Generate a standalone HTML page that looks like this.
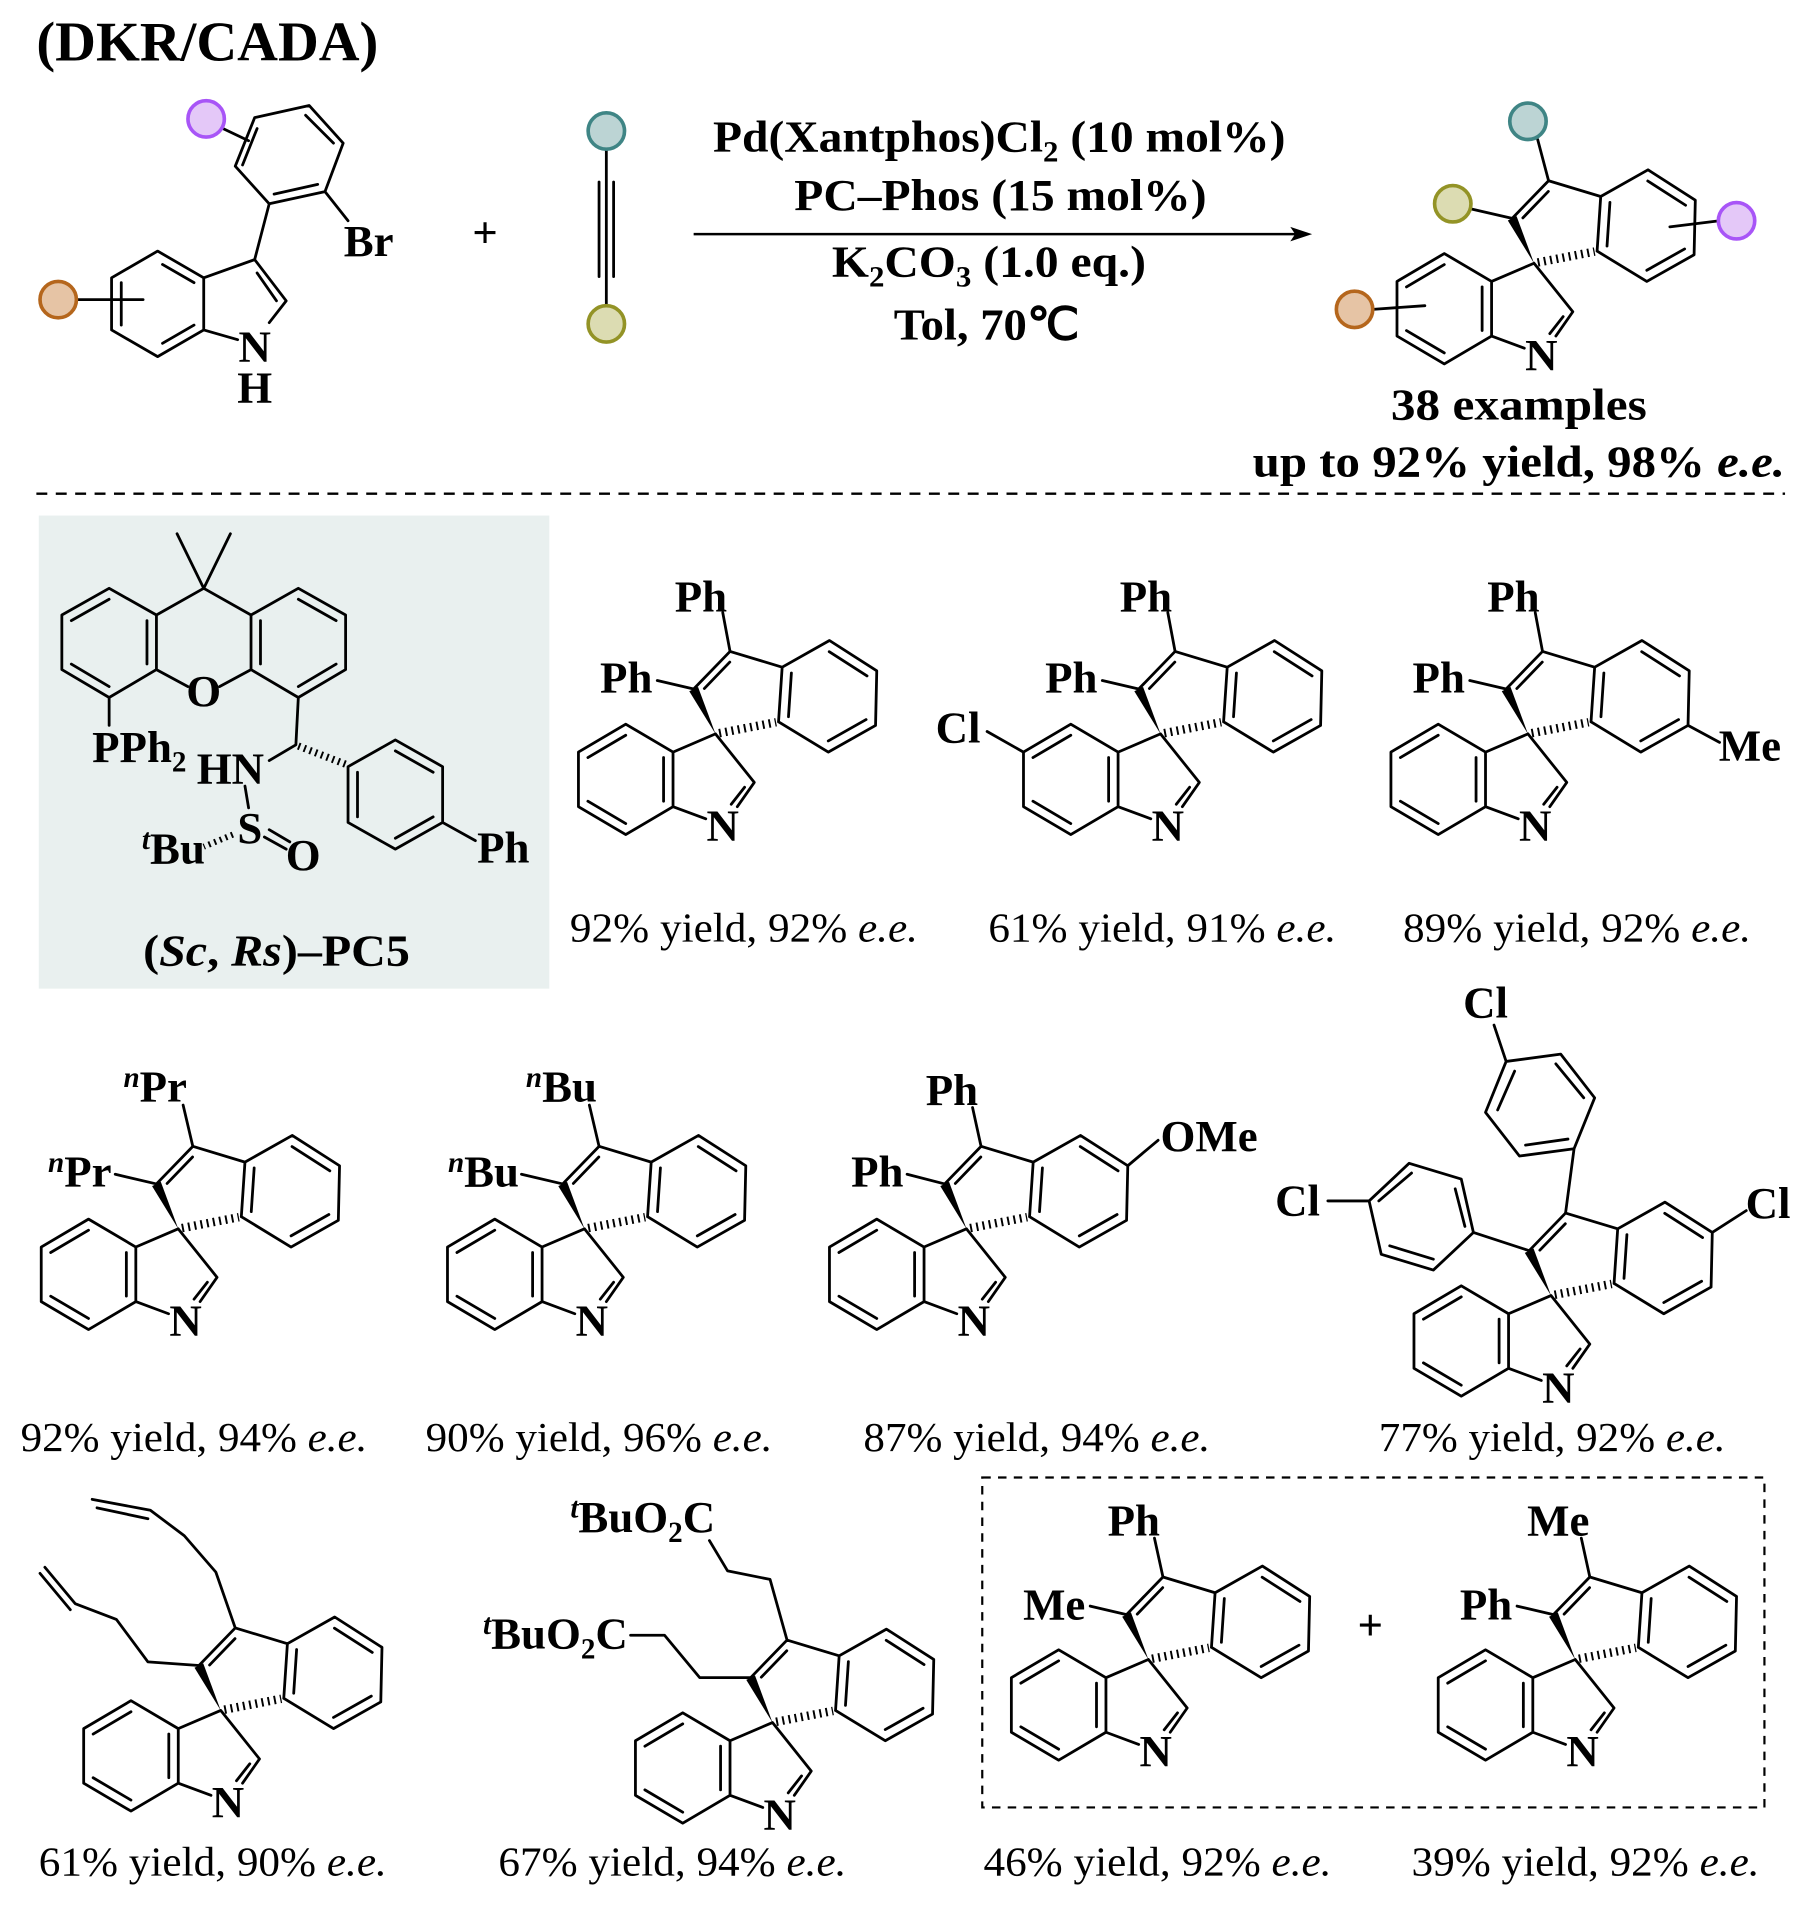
<!DOCTYPE html>
<html><head><meta charset="utf-8"><style>
html,body{margin:0;padding:0;background:#fff;}
svg{display:block;}
.b{font-family:"Liberation Serif",serif;font-weight:bold;font-size:37px;fill:#000;}
.c{font-family:"Liberation Serif",serif;font-size:34px;fill:#000;}
.l{stroke:#000;stroke-width:2.3;fill:none;stroke-linecap:round;stroke-linejoin:round;}
</style></head><body>
<svg width="1819" height="1913" viewBox="0 0 1500 1577" preserveAspectRatio="none" xmlns="http://www.w3.org/2000/svg">
<defs>
<g id="core">
<path class="l" d="M-18,-37 L12,-68 L55,-55 L52,-10 M55,-55 L94,-77 L133,-52 L132,-7 L93,15 L52,-10 M-9.2,-37.4 L11.8,-59.2 M93.8,-67.8 L125,-47.8 M124.2,-11.8 L93,5.8 M60.2,-14.2 L62.6,-50.2 M0,0 L-35,15 L-35,60 L-8,70 M0,0 L32,40 L18,60 M24,44 L13,58 M-35,15 L-74,-8 L-113,15 L-113,60 L-74,83 L-35,60 M-74,1.1 L-105.2,19.5 M-105.2,55.5 L-74,73.9 M-42.8,55.5 L-42.8,19.5"/>
<polygon points="0,0 -14.4,-38.8 -21.6,-35.2" fill="#000"/>
<line x1="3" y1="-0.6" x2="50" y2="-9.6" stroke="#000" stroke-width="7" stroke-dasharray="1.6 3.6"/>
<text class="b" x="6" y="88" text-anchor="middle">N</text>
</g>
</defs>

<text class="b" x="30" y="50" style="font-size:46px" textLength="282" lengthAdjust="spacingAndGlyphs">(DKR/CADA)</text>

<path class="l" d="M130,207 L168,229 L168,272 L130,294 L92,272 L92,229 Z M134,218 L160,233 M160,268 L134,283 M100,233 L100,268 M168,229 L210,214 L236,248 L222,266 M168,272 L196,280 M212,225 L228,248 M210,214 L222,168 L268,158 L283,118 L255,87 L210,97 L194,137 L222,168 M226,160 L262,152 M275,118 L252,95 M212,106 L200,136 M268,158 L287,182 M63,247 L118,247 M184,106 L205,116"/>
<text class="b" x="210" y="298" text-anchor="middle">N</text>
<text class="b" x="210" y="332" text-anchor="middle">H</text>
<text class="b" x="304" y="211" text-anchor="middle">Br</text>
<circle cx="48" cy="247" r="15" fill="#e6c4a5" stroke="#b5661c" stroke-width="3"/>
<circle cx="170" cy="98" r="15" fill="#e4c8f8" stroke="#a855f7" stroke-width="3"/>
<text class="b" x="400" y="204" text-anchor="middle">+</text>

<path class="l" d="M500,123 L500,150 M494,150 L494,228 M500,150 L500,228 M506,150 L506,228 M500,228 L500,252"/>
<circle cx="500" cy="108" r="15" fill="#bcd4d4" stroke="#3f8585" stroke-width="3"/>
<circle cx="500" cy="267" r="15" fill="#dcdcb2" stroke="#939326" stroke-width="3"/>

<line x1="572" y1="193" x2="1068" y2="193" stroke="#000" stroke-width="2"/>
<polygon points="1082,193 1064,187 1068,193 1064,199" fill="#000"/>
<text class="b" x="588" y="125" textLength="472" lengthAdjust="spacingAndGlyphs">Pd(Xantphos)Cl<tspan font-size="24" dy="8">2</tspan><tspan dy="-8"> (10 mol%)</tspan></text>
<text class="b" x="655" y="173" textLength="340" lengthAdjust="spacingAndGlyphs">PC–Phos (15 mol%)</text>
<text class="b" x="686" y="228" textLength="259" lengthAdjust="spacingAndGlyphs">K<tspan font-size="24" dy="8">2</tspan><tspan dy="-8">CO</tspan><tspan font-size="24" dy="8">3</tspan><tspan dy="-8"> (1.0 eq.)</tspan></text>
<text class="b" x="737" y="280" textLength="153" lengthAdjust="spacingAndGlyphs">Tol, 70℃</text>

<use href="#core" x="1265" y="217"/>
<path class="l" d="M1247,180 L1212,172 M1277,149 L1268,115 M1418,182 L1377,187 M1132,255 L1175,252"/>
<circle cx="1198" cy="168" r="15" fill="#dcdcb2" stroke="#939326" stroke-width="3"/>
<circle cx="1260" cy="100" r="15" fill="#bcd4d4" stroke="#3f8585" stroke-width="3"/>
<circle cx="1432" cy="182" r="15" fill="#e4c8f8" stroke="#a855f7" stroke-width="3"/>
<circle cx="1117" cy="255" r="15" fill="#e6c4a5" stroke="#b5661c" stroke-width="3"/>
<text class="b" x="1147" y="346" textLength="211" lengthAdjust="spacingAndGlyphs">38 examples</text>
<text class="b" x="1033" y="393" textLength="439" lengthAdjust="spacingAndGlyphs">up to 92% yield, 98% <tspan font-style="italic">e.e.</tspan></text>

<line x1="30" y1="407" x2="1472" y2="407" stroke="#000" stroke-width="2" stroke-dasharray="9 7"/>

<rect x="32" y="425" width="421" height="390" fill="#e9f0ef"/>
<path class="l" d="M90,485 L129,507 L129,552 L90,575 L51,552 L51,507 Z M58.8,511.6 L90,494 M121.2,511.6 L121.2,547.4 M90,566 L58.8,547.4 M246,485 L285,507 L285,552 L246,575 L207,552 L207,507 Z M246,494 L277.2,511.6 M277.2,547.4 L246,566 M214.8,547.4 L214.8,511.6 M129,507 L168,485 L207,507 M129,552 L155,566 M181,566 L207,552 M168,485 L146,440 M168,485 L190,440 M90,575 L90,598 M246,575 L244,614 L222,627 M326,610 L365,632 L365,678 L326,700 L287,678 L287,632 Z M326,619 L357.2,636.6 M357.2,673.4 L326,691 M294.8,673.4 L294.8,636.6 M365,678 L392,693 M202,648 L205,666 M218,690 L236,700 M222,684 L239,694"/>
<line x1="246" y1="615" x2="285" y2="630" stroke="#000" stroke-width="6" stroke-dasharray="1.6 3.4"/>
<line x1="192" y1="688" x2="168" y2="698" stroke="#000" stroke-width="5" stroke-dasharray="1.6 3.4"/>
<text class="b" x="168" y="582" text-anchor="middle">O</text>
<text class="b" x="76" y="628">PPh<tspan font-size="24" dy="8">2</tspan></text>
<text class="b" x="190" y="646" text-anchor="middle">HN</text>
<text class="b" x="206" y="695" text-anchor="middle">S</text>
<text class="b" x="250" y="717" text-anchor="middle">O</text>
<text class="b" x="143" y="712" text-anchor="middle"><tspan font-style="italic" font-size="24" dy="-12">t</tspan><tspan dy="12">Bu</tspan></text>
<text class="b" x="415" y="711" text-anchor="middle">Ph</text>
<text class="b" x="118" y="796" textLength="220" lengthAdjust="spacingAndGlyphs">(<tspan font-style="italic">Sc</tspan>, <tspan font-style="italic">Rs</tspan>)–PC5</text>

<use href="#core" x="590" y="605"/>
<path class="l" d="M572,568 L542,561 M602,537 L596,505"/>
<text class="b" x="578" y="504" text-anchor="middle">Ph</text>
<text class="b" x="538" y="571" text-anchor="end">Ph</text>
<text class="c" x="470" y="776" textLength="287" lengthAdjust="spacingAndGlyphs">92% yield, 92% <tspan font-style="italic">e.e.</tspan></text>

<use href="#core" x="957" y="605"/>
<path class="l" d="M939,568 L909,561 M969,537 L963,505 M844,620 L814,603"/>
<text class="b" x="945" y="504" text-anchor="middle">Ph</text>
<text class="b" x="905" y="571" text-anchor="end">Ph</text>
<text class="b" x="790" y="612" text-anchor="middle">Cl</text>
<text class="c" x="815" y="776" textLength="287" lengthAdjust="spacingAndGlyphs">61% yield, 91% <tspan font-style="italic">e.e.</tspan></text>

<use href="#core" x="1260" y="605"/>
<path class="l" d="M1242,568 L1212,561 M1272,537 L1266,505 M1392,598 L1418,612"/>
<text class="b" x="1248" y="504" text-anchor="middle">Ph</text>
<text class="b" x="1208" y="571" text-anchor="end">Ph</text>
<text class="b" x="1443" y="627" text-anchor="middle">Me</text>
<text class="c" x="1157" y="776" textLength="287" lengthAdjust="spacingAndGlyphs">89% yield, 92% <tspan font-style="italic">e.e.</tspan></text>

<use href="#core" x="147" y="1013"/>
<path class="l" d="M129,976 L95,968 M159,945 L151,911"/>
<text class="b" x="128" y="908" text-anchor="middle"><tspan font-style="italic" font-size="24" dy="-12">n</tspan><tspan dy="12">Pr</tspan></text>
<text class="b" x="92" y="978" text-anchor="end"><tspan font-style="italic" font-size="24" dy="-12">n</tspan><tspan dy="12">Pr</tspan></text>
<text class="c" x="17" y="1196" textLength="286" lengthAdjust="spacingAndGlyphs">92% yield, 94% <tspan font-style="italic">e.e.</tspan></text>

<use href="#core" x="482" y="1013"/>
<path class="l" d="M464,976 L430,968 M494,945 L486,911"/>
<text class="b" x="463" y="908" text-anchor="middle"><tspan font-style="italic" font-size="24" dy="-12">n</tspan><tspan dy="12">Bu</tspan></text>
<text class="b" x="428" y="978" text-anchor="end"><tspan font-style="italic" font-size="24" dy="-12">n</tspan><tspan dy="12">Bu</tspan></text>
<text class="c" x="351" y="1196" textLength="286" lengthAdjust="spacingAndGlyphs">90% yield, 96% <tspan font-style="italic">e.e.</tspan></text>

<use href="#core" x="797" y="1013"/>
<path class="l" d="M779,976 L748,968 M809,945 L802,913 M930,961 L955,940"/>
<text class="b" x="785" y="911" text-anchor="middle">Ph</text>
<text class="b" x="745" y="978" text-anchor="end">Ph</text>
<text class="b" x="957" y="949">OMe</text>
<text class="c" x="712" y="1196" textLength="286" lengthAdjust="spacingAndGlyphs">87% yield, 94% <tspan font-style="italic">e.e.</tspan></text>

<use href="#core" x="1279" y="1068"/>
<path class="l" d="M1261,1031 L1215,1016 M1291,1000 L1298,947 M1412,1016 L1440,998 M1298,947 L1253,953 L1225,917 L1242,875 L1287,869 L1315,905 Z M1293,939 L1258,944 M1235,915 L1249,883 M1283,877 L1306,905 M1215,1016 L1182,1047 L1139,1034 L1129,990 L1162,959 L1205,972 Z M1182,1038 L1146,1027 M1137,990 L1164,967 M1200,980 L1208,1011 M1242,875 L1232,845 M1129,990 L1095,990"/>
<text class="b" x="1225" y="839" text-anchor="middle">Cl</text>
<text class="b" x="1070" y="1002" text-anchor="middle">Cl</text>
<text class="b" x="1458" y="1004" text-anchor="middle">Cl</text>
<text class="c" x="1137" y="1196" textLength="286" lengthAdjust="spacingAndGlyphs">77% yield, 92% <tspan font-style="italic">e.e.</tspan></text>

<use href="#core" x="182" y="1410"/>
<path class="l" d="M164,1373 L122,1370 L96,1335 L62,1322 L37,1292 M58,1327 L33,1297 M194,1342 L178,1296 L152,1266 L124,1245 L76,1236 M122,1252 L80,1243"/>
<text class="c" x="32" y="1546" textLength="287" lengthAdjust="spacingAndGlyphs">61% yield, 90% <tspan font-style="italic">e.e.</tspan></text>

<use href="#core" x="637" y="1420"/>
<path class="l" d="M619,1383 L577,1383 L548,1348 L520,1348 M649,1352 L635,1302 L600,1295 L585,1270"/>
<text class="b" x="530" y="1263" text-anchor="middle"><tspan font-style="italic" font-size="24" dy="-12">t</tspan><tspan dy="12">BuO</tspan><tspan font-size="24" dy="8">2</tspan><tspan dy="-8">C</tspan></text>
<text class="b" x="458" y="1359" text-anchor="middle"><tspan font-style="italic" font-size="24" dy="-12">t</tspan><tspan dy="12">BuO</tspan><tspan font-size="24" dy="8">2</tspan><tspan dy="-8">C</tspan></text>
<text class="c" x="411" y="1546" textLength="287" lengthAdjust="spacingAndGlyphs">67% yield, 94% <tspan font-style="italic">e.e.</tspan></text>

<rect x="810" y="1218" width="645" height="272" fill="none" stroke="#000" stroke-width="1.8" stroke-dasharray="7 6"/>
<use href="#core" x="947" y="1368"/>
<path class="l" d="M929,1331 L899,1324 M959,1300 L952,1268"/>
<text class="b" x="935" y="1266" text-anchor="middle">Ph</text>
<text class="b" x="895" y="1335" text-anchor="end">Me</text>
<text class="b" x="1130" y="1352" text-anchor="middle">+</text>
<use href="#core" x="1299" y="1368"/>
<path class="l" d="M1281,1331 L1251,1324 M1311,1300 L1304,1268"/>
<text class="b" x="1285" y="1266" text-anchor="middle">Me</text>
<text class="b" x="1247" y="1335" text-anchor="end">Ph</text>
<text class="c" x="811" y="1546" textLength="287" lengthAdjust="spacingAndGlyphs">46% yield, 92% <tspan font-style="italic">e.e.</tspan></text>
<text class="c" x="1164" y="1546" textLength="287" lengthAdjust="spacingAndGlyphs">39% yield, 92% <tspan font-style="italic">e.e.</tspan></text>
</svg>
</body></html>
